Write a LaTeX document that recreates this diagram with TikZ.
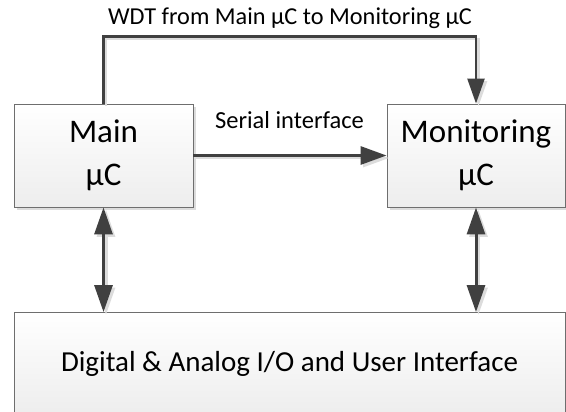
\documentclass[tikz,border=0pt]{standalone}
\usepackage{fontspec}
\setmainfont{Carlito}
\usetikzlibrary{arrows.meta,shadows}
\definecolor{linegray}{HTML}{404040}
\definecolor{framegray}{HTML}{6E6E6E}
\definecolor{shadegray}{HTML}{DCDCDC}
\tikzset{
  block/.style={draw=framegray, line width=0.9pt, top color=white, bottom color=black!7,
    drop shadow={shadow xshift=3pt, shadow yshift=-3pt, fill=shadegray, opacity=1},
    align=center, inner sep=0pt},
  conn/.style={draw=linegray, line width=3pt,
    arrows={-Triangle[length=26pt,width=18pt]}},
  biconn/.style={draw=linegray, line width=3pt,
    arrows={Triangle[length=27pt,width=18pt]-Triangle[length=27pt,width=18pt]}},
  thinconn/.style={draw=linegray, line width=2.4pt,
    arrows={-Triangle[length=25pt,width=17pt]}},
  shadowed/.style={draw=shadegray, transform canvas={shift={(2.5pt,-2.5pt)}}},
  lbl/.style={anchor=base, inner sep=0pt, font=\fontsize{24.5}{29}\selectfont}
}
\begin{document}
\begin{tikzpicture}[x=1pt,y=1pt]
\useasboundingbox (0,0) rectangle (566,-412);
\clip (0,0) rectangle (566,-412);
\fill[white] (0,0) rectangle (566,-412);

% blocks
\node[block, minimum width=179pt, minimum height=103pt,
      font=\fontsize{33}{43}\selectfont] (main) at (103.5,-155.5) {Main\\µC};
\node[block, minimum width=178pt, minimum height=103pt,
      font=\fontsize{33}{43}\selectfont] (mon) at (476,-155.5) {Monitoring\\µC};
\node[block, minimum width=551pt, minimum height=103pt,
      font=\fontsize{29}{34}\selectfont] (io) at (289.5,-364) {Digital \& Analog I/O and User Interface};

% watchdog line over the top
\draw[thinconn, shadowed] (main.north) -- ++(0,67) -| (mon.north);
\draw[thinconn] (main.north) -- ++(0,67) -| (mon.north);
\node[lbl, font=\fontsize{24.3}{29}\selectfont] (wdt) at (290,-25) {WDT from Main µC to Monitoring µC};

% serial link
\draw[conn, shadowed] (main.east) -- (mon.west);
\draw[conn] (main.east) -- (mon.west);
\node[lbl] (serial) at (289.5,-129) {Serial interface};

% links to the I/O block
\draw[biconn, shadowed] (main.south) -- (main.south |- io.north);
\draw[biconn] (main.south) -- (main.south |- io.north);
\draw[biconn, shadowed] (mon.south) -- (mon.south |- io.north);
\draw[biconn] (mon.south) -- (mon.south |- io.north);
\end{tikzpicture}
\end{document}
